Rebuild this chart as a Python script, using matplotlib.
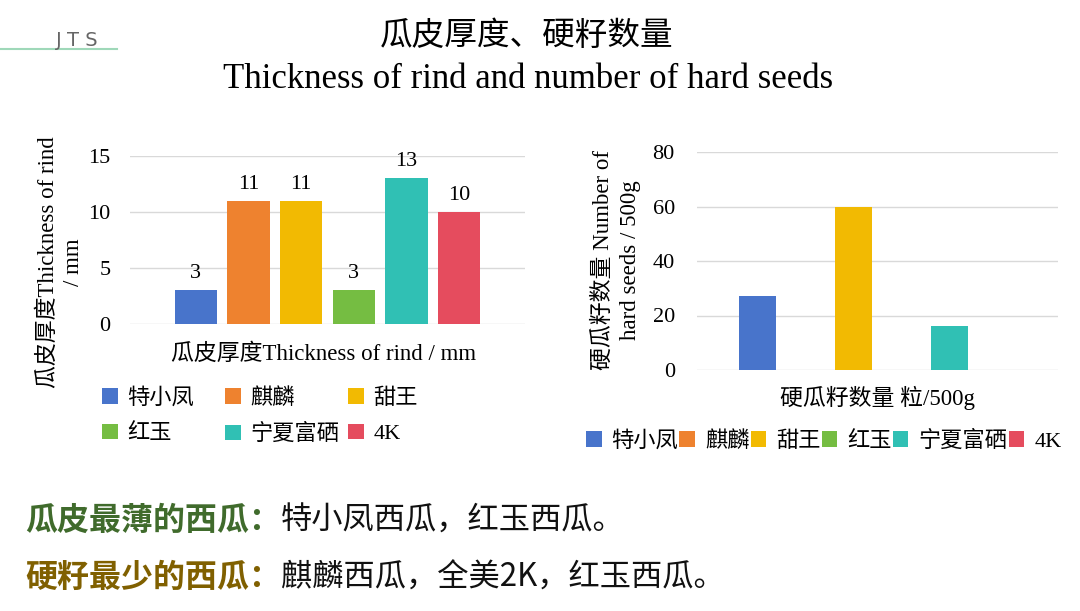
import matplotlib
matplotlib.use('Agg')
import matplotlib.pyplot as plt

# data
varieties = ['特小凤', '麒麟', '甜王', '红玉', '宁夏富硒', '4K']
rind_mm = [3, 11, 11, 3, 13, 10]
hard_seeds = [27, 0, 60, 0, 16, 0]
colors = ['#4874CB', '#EE822F', '#F2BA02', '#75BD42', '#30C0B4', '#E54C5E']

title_cn = '瓜皮厚度、硬籽数量'
title_en = 'Thickness of rind and number of hard seeds'
note1 = ('瓜皮最薄的西瓜：', '特小凤西瓜，红玉西瓜。')
note2 = ('硬籽最少的西瓜：', '麒麟西瓜，全美2K，红玉西瓜。')

SERIF = ['Liberation Serif', 'Noto Sans CJK SC']
CJK = ['Noto Sans CJK SC', 'DejaVu Sans']
plt.rcParams['font.family'] = SERIF

W, H = 1080, 611
fig = plt.figure(figsize=(W / 100, H / 100), dpi=100)


def fx(px):
    return px / W


def fy(py):
    return 1 - py / H


# header
fig.text(fx(56), fy(40), 'J T S', family='DejaVu Sans', fontsize=14,
         color='#666666', va='center', ha='left')
fig.add_artist(plt.Line2D([0, fx(117)], [fy(49), fy(49)], color='#9FD8B9', lw=1.5))
fig.text(fx(527), fy(36), title_cn, family=CJK, fontsize=23.5, ha='center', va='center')
fig.text(fx(528), fy(80), title_en, family='Liberation Serif', fontsize=25,
         ha='center', va='center')

x = list(range(len(varieties)))
grid_c = '#D9D9D9'


def style(ax):
    for s in ax.spines.values():
        s.set_visible(False)
    ax.set_xticks([])
    ax.yaxis.grid(True, color=grid_c, lw=1)
    ax.set_axisbelow(True)
    ax.tick_params(axis='y', length=0, labelsize=16)
    ax.set_xlim(-1.25, 6.25)


# left chart: rind thickness
ax1 = fig.add_axes([fx(130), fy(324), fx(395), 168 / H])
bars1 = ax1.bar(x, rind_mm, width=0.8, color=colors)
ax1.set_ylim(0, 15)
ax1.set_yticks([0, 5, 10, 15])
style(ax1)
ax1.tick_params(axis='y', pad=14)
ax1.bar_label(bars1, padding=5, fontsize=16)
ax1.text(0.49, -0.115, '瓜皮厚度Thickness of rind / mm', transform=ax1.transAxes,
         ha='center', va='top', fontsize=16.5)
ax1.text(-0.175, 0.37, '瓜皮厚度Thickness of rind\n/ mm', transform=ax1.transAxes,
         rotation=90, ha='center', va='center', multialignment='center', fontsize=16.5,
         linespacing=1.25)

# left legend, three columns of two rows
order = [[0, 3], [1, 4], [2, 5]]
col_x = [102, 225, 348]
for cx, idx in zip(col_x, order):
    fig.legend([bars1[i] for i in idx], [varieties[i] for i in idx],
               loc='upper left', bbox_to_anchor=(fx(cx), fy(388)),
               frameon=False, fontsize=16, handlelength=0.7, handleheight=0.7,
               handletextpad=0.45, labelspacing=0.68, borderpad=0, borderaxespad=0)

# right chart: hard seeds
ax2 = fig.add_axes([fx(697), fy(370), fx(361), 218 / H])
bars2 = ax2.bar(x, hard_seeds, width=0.77, color=colors)
ax2.set_ylim(0, 80)
ax2.set_yticks([0, 20, 40, 60, 80])
style(ax2)
ax2.tick_params(axis='y', pad=16)
ax2.text(0.5, -0.075, '硬瓜籽数量 粒/500g', transform=ax2.transAxes,
         ha='center', va='top', fontsize=16.5)
ax2.text(-0.222, 0.505, '硬瓜籽数量 Number of\nhard seeds / 500g', transform=ax2.transAxes,
         rotation=90, ha='center', va='center', multialignment='center', fontsize=16.5,
         linespacing=1.4)

fig.legend(bars2, varieties, loc='center left', bbox_to_anchor=(fx(586), fy(441)),
           ncol=6, frameon=False, fontsize=16, handlelength=0.7, handleheight=0.7,
           handletextpad=0.45, columnspacing=0.05, borderpad=0, borderaxespad=0)

# bottom notes
fig.canvas.draw()
r = fig.canvas.get_renderer()
for (head, rest), py, c in [(note1, 521, '#406B2C'), (note2, 578, '#806000')]:
    t = fig.text(fx(25), fy(py), head, family=CJK, fontsize=23, fontweight='bold',
                 color=c, va='center', ha='left')
    bb = t.get_window_extent(renderer=r)
    fig.text(bb.x1 / W, fy(py), rest, family=CJK, fontsize=22.5,
             color='#111111', va='center', ha='left')

fig.savefig('out.png', dpi=100)
